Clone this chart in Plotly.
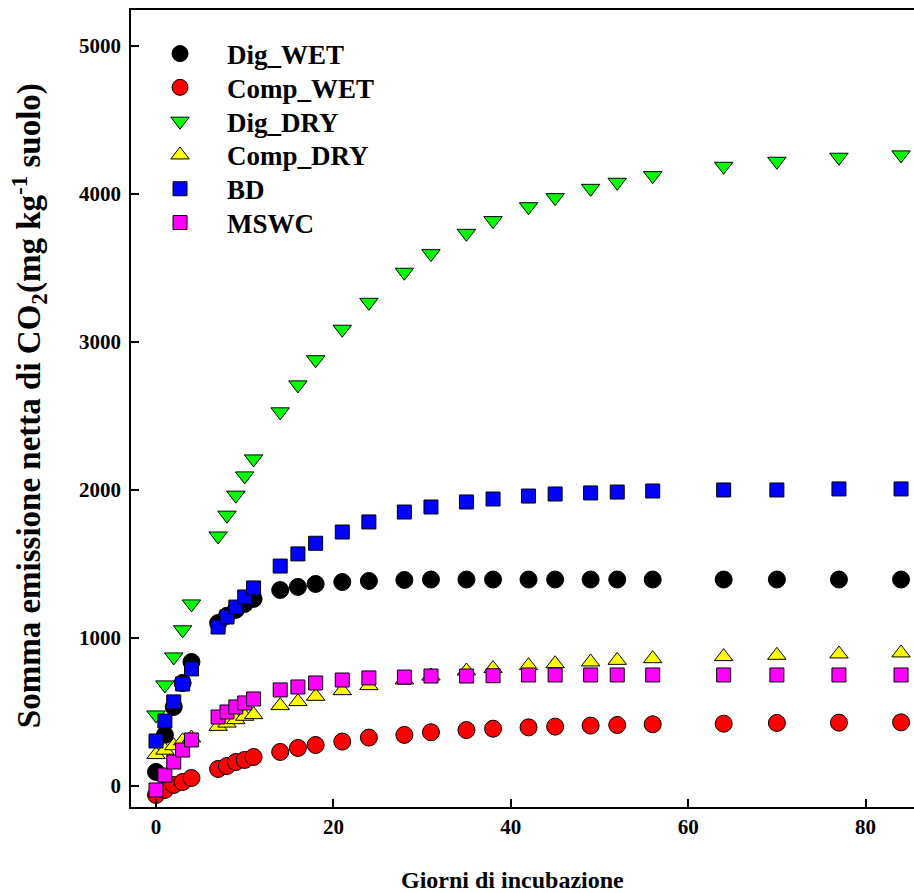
import plotly.graph_objects as go

days = [0, 1, 2, 3, 4, 7, 8, 9, 10, 11, 14, 16, 18, 21, 24, 28, 31, 35, 38, 42, 45, 49, 52, 56, 64, 70, 77, 84]

dig_wet = [95, 345, 534, 696, 838, 1101, 1150, 1190, 1230, 1264, 1324, 1345, 1365, 1378, 1385, 1392,
           1395, 1395, 1395, 1395, 1395, 1395, 1395, 1395, 1395, 1395, 1395, 1395]
comp_wet = [-61, -27, 7, 27, 54, 115, 135, 162, 176, 196, 230, 257, 277, 300, 327, 345,
            363, 378, 387, 396, 401, 408, 412, 417, 421, 426, 428, 430]
dig_dry = [480, 683, 872, 1055, 1230, 1689, 1830, 1965, 2095, 2210, 2528, 2710, 2880, 3086, 3268, 3471,
           3597, 3734, 3820, 3914, 3975, 4038, 4079, 4124, 4187, 4221, 4248, 4264]
comp_dry = [212, 242, 272, 305, 324, 403, 425, 448, 471, 482, 543, 570, 606, 644, 678, 716,
            743, 777, 793, 813, 826, 838, 849, 860, 874, 883, 892, 899]
bd = [304, 439, 568, 689, 791, 1074, 1142, 1209, 1277, 1338, 1486, 1568, 1640, 1716, 1784, 1851,
      1885, 1919, 1939, 1959, 1973, 1980, 1986, 1993, 2000, 2000, 2007, 2007]
mswc = [-27, 74, 162, 243, 311, 466, 500, 534, 561, 588, 649, 669, 696, 716, 730, 736,
        743, 743, 745, 750, 750, 750, 750, 750, 750, 750, 750, 750]

x_ticks = [0, 20, 40, 60, 80]
y_ticks = [0, 1000, 2000, 3000, 4000, 5000]

series = [
    ("Dig_WET", dig_wet, "circle", "#000000", 17),
    ("Comp_WET", comp_wet, "circle", "#FF0000", 17),
    ("Dig_DRY", dig_dry, "triangle-down", "#00FF00", 16),
    ("Comp_DRY", comp_dry, "triangle-up", "#FFFF00", 16),
    ("BD", bd, "square", "#0000FF", 14),
    ("MSWC", mswc, "square", "#FF00FF", 14),
]

FONT = "Liberation Serif"
legend_font = dict(family=FONT, size=27, weight="bold", color="#000000")

fig = go.Figure()
legend_layouts = {}
for i, (name, vals, sym, col, sz) in enumerate(series):
    key = "legend" if i == 0 else f"legend{i + 1}"
    fig.add_trace(go.Scatter(
        x=days, y=vals, mode="markers", name=name, legend=key, showlegend=True,
        marker=dict(symbol=sym, color=col, size=sz, line=dict(color="#000000", width=1)),
    ))
    ypix = 54 + 33.8 * i
    legend_layouts[key] = dict(
        x=0.0026, y=(807 - ypix) / 797, xanchor="left", yanchor="middle",
        font=legend_font, itemwidth=84, bgcolor="rgba(0,0,0,0)", borderwidth=0,
        visible=True,
    )

fig.update_layout(
    width=914, height=893,
    showlegend=True,
    margin=dict(l=131, r=0, t=10, b=86),
    plot_bgcolor="white", paper_bgcolor="white",
    font=dict(family=FONT, color="#000000"),
    xaxis=dict(
        range=[-2.82, 85.46], tickvals=x_ticks, ticks="inside", ticklen=8, tickwidth=1.5,
        tickcolor="#000000", showline=True, linecolor="#000000", linewidth=1.5, mirror=True,
        showgrid=False, zeroline=False,
        tickfont=dict(family=FONT, size=21, weight="bold", color="#000000"),
    ),
    yaxis=dict(
        range=[-142, 5243], tickvals=y_ticks, ticks="inside", ticklen=8, tickwidth=1.5,
        tickcolor="#000000", showline=True, linecolor="#000000", linewidth=1.5, mirror=False,
        showgrid=False, zeroline=False, ticklabelstandoff=4,
        tickfont=dict(family=FONT, size=21, weight="bold", color="#000000"),
    ),
    annotations=[
        dict(text="Giorni di incubazione", xref="paper", yref="paper", x=0.4866, y=-0.0916,
             xanchor="center", yanchor="middle", showarrow=False,
             font=dict(family=FONT, size=24, weight="bold", color="#000000")),
        dict(text="Somma emissione netta di CO<sub>2</sub>(mg kg<sup>-1</sup> suolo)",
             xref="paper", yref="paper", x=-0.1305, y=0.504, textangle=-90,
             xanchor="center", yanchor="middle", showarrow=False,
             font=dict(family=FONT, size=33, weight="bold", color="#000000")),
    ],
    **legend_layouts,
)

fig.write_html("out.html")
